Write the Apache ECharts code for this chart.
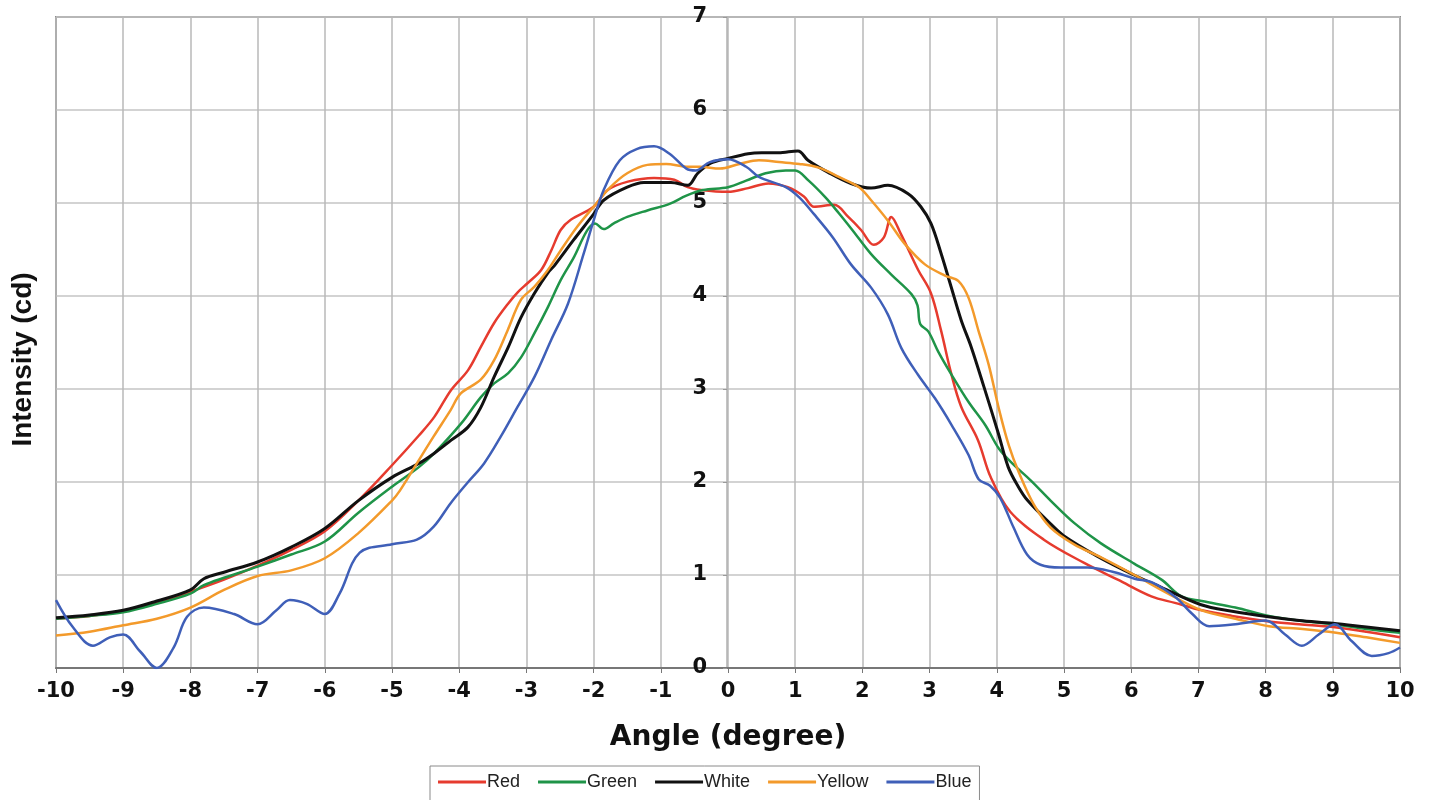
<!DOCTYPE html>
<html>
<head>
<meta charset="utf-8">
<title>Intensity vs Angle</title>
<script src="https://cdn.jsdelivr.net/npm/echarts@6.0.0/dist/echarts.min.js"></script>
<style>
  html, body { margin: 0; padding: 0; background: #fff; }
  #graph01 { width: 1442px; height: 800px; }
</style>
</head>
<body>
<div id="graph01"></div>
<script>
// values: angle (degree) and intensity (cd) per colour
var legendNames = ['Red', 'Green', 'White', 'Yellow', 'Blue'];

var redX = [-10,-9.5,-9,-8.5,-8,-7.5,-7,-6.5,-6,-5.5,-5,-4.6,-4.37,-4.12,-3.87,-3.68,-3.48,-3.27,-3.13,-2.98,-2.78,-2.63,-2.49,-2.34,-2.0,-1.79,-1.49,-1.1,-0.8,-0.6,-0.4,0,0.3,0.6,0.89,1.13,1.28,1.58,1.79,1.98,2.17,2.32,2.43,2.57,2.83,3.02,3.17,3.32,3.47,3.72,3.91,4.2,4.7,5.3,5.8,6.3,6.65,7.05,7.5,8.05,8.5,9,9.5,10];
var redY = [0.53,0.56,0.61,0.7,0.82,0.95,1.1,1.27,1.47,1.8,2.18,2.5,2.7,2.99,3.2,3.45,3.71,3.92,4.04,4.14,4.28,4.49,4.71,4.82,4.96,5.14,5.23,5.27,5.25,5.17,5.14,5.12,5.16,5.21,5.17,5.07,4.96,4.98,4.85,4.71,4.55,4.63,4.85,4.67,4.28,4.03,3.63,3.17,2.81,2.45,2.05,1.68,1.38,1.13,0.95,0.77,0.7,0.62,0.56,0.5,0.47,0.44,0.39,0.33];

var greenX = [-10,-9.5,-9,-8.5,-8,-7.8,-7.5,-7,-6.5,-6,-5.5,-5,-4.6,-4.37,-3.97,-3.68,-3.48,-3.27,-3.08,-2.88,-2.68,-2.49,-2.29,-2.1,-1.98,-1.85,-1.7,-1.5,-1.2,-0.87,-0.62,-0.37,0,0.27,0.56,0.86,1.0,1.2,1.45,1.65,1.85,2.13,2.43,2.73,2.82,2.86,2.98,3.13,3.33,3.58,3.83,4.03,4.23,4.5,4.8,5.15,5.55,6.05,6.45,6.75,7.05,7.55,8.05,8.5,9,9.5,10];
var greenY = [0.53,0.56,0.6,0.69,0.8,0.89,0.97,1.09,1.22,1.36,1.67,1.95,2.16,2.31,2.63,2.91,3.06,3.17,3.34,3.6,3.88,4.17,4.42,4.7,4.78,4.72,4.78,4.85,4.92,4.99,5.08,5.14,5.17,5.24,5.32,5.35,5.35,5.24,5.06,4.89,4.71,4.45,4.23,4.02,3.9,3.7,3.62,3.4,3.15,2.86,2.61,2.36,2.2,2.02,1.8,1.56,1.34,1.12,0.95,0.77,0.72,0.65,0.56,0.51,0.47,0.42,0.38];

var whiteX = [-10,-9.5,-9,-8.5,-8,-7.8,-7.5,-7,-6.5,-6,-5.5,-5,-4.6,-4.37,-4.12,-3.87,-3.68,-3.48,-3.27,-3.08,-2.88,-2.68,-2.58,-2.3,-2.0,-1.85,-1.5,-1.25,-0.85,-0.6,-0.45,-0.25,0,0.3,0.5,0.75,1.04,1.19,1.49,1.83,2.13,2.38,2.68,2.87,3.02,3.17,3.32,3.47,3.62,3.81,4.02,4.17,4.32,4.46,4.8,5.0,5.5,6.04,6.44,7.04,7.5,8.04,8.5,9,9.5,10];
var whiteY = [0.54,0.57,0.62,0.72,0.84,0.96,1.03,1.14,1.3,1.5,1.8,2.05,2.2,2.31,2.45,2.59,2.8,3.13,3.45,3.77,4.03,4.25,4.33,4.6,4.88,5.03,5.17,5.22,5.22,5.19,5.32,5.43,5.48,5.53,5.54,5.54,5.56,5.46,5.33,5.21,5.16,5.19,5.1,4.96,4.78,4.46,4.1,3.74,3.45,3.02,2.53,2.16,1.95,1.8,1.55,1.42,1.2,1.0,0.87,0.68,0.61,0.55,0.51,0.48,0.44,0.4];

var yellowX = [-10,-9.5,-9,-8.5,-8,-7.5,-7,-6.5,-6,-5.5,-5,-4.88,-4.63,-4.38,-4.13,-3.98,-3.68,-3.48,-3.28,-3.08,-2.88,-2.68,-2.49,-2.25,-2,-1.75,-1.5,-1.2,-0.92,-0.62,-0.42,-0.12,0.17,0.46,0.76,1.06,1.35,1.65,1.95,2.13,2.38,2.63,2.93,3.23,3.43,3.58,3.73,3.88,4.03,4.18,4.33,4.55,4.8,5.15,5.55,6.05,6.55,7.05,7.55,8.05,8.55,9.05,9.5,10];
var yellowY = [0.35,0.39,0.46,0.53,0.65,0.84,0.99,1.05,1.18,1.45,1.8,1.91,2.2,2.49,2.77,2.95,3.1,3.31,3.63,3.96,4.1,4.28,4.49,4.74,4.96,5.17,5.32,5.41,5.42,5.39,5.39,5.37,5.42,5.46,5.44,5.42,5.38,5.28,5.17,5.03,4.81,4.56,4.34,4.22,4.16,3.98,3.62,3.26,2.79,2.39,2.1,1.76,1.51,1.33,1.19,1.0,0.8,0.62,0.53,0.45,0.42,0.38,0.33,0.27];

var blueX = [-10,-9.75,-9.45,-9.2,-9,-8.75,-8.5,-8.25,-8.05,-7.8,-7.35,-7,-6.72,-6.52,-6.27,-6,-5.78,-5.48,-5,-4.63,-4.38,-4.13,-3.88,-3.63,-3.38,-3.13,-2.88,-2.63,-2.38,-2.15,-2,-1.85,-1.61,-1.36,-1.1,-0.87,-0.62,-0.48,-0.27,0,0.27,0.46,0.86,1.06,1.28,1.56,1.83,2.13,2.38,2.58,2.83,3.08,3.33,3.58,3.73,3.9,4.05,4.25,4.45,4.65,4.95,5.35,5.75,6.05,6.31,6.66,6.91,7.16,7.55,8.0,8.29,8.54,8.79,9.03,9.28,9.58,9.83,10];
var blueY = [0.73,0.44,0.24,0.33,0.36,0.18,0.0,0.22,0.55,0.65,0.58,0.47,0.62,0.73,0.69,0.58,0.8,1.24,1.33,1.38,1.52,1.77,1.99,2.2,2.49,2.81,3.13,3.53,3.92,4.45,4.81,5.14,5.46,5.58,5.61,5.53,5.37,5.35,5.44,5.47,5.39,5.28,5.17,5.06,4.88,4.63,4.34,4.09,3.8,3.44,3.15,2.9,2.61,2.29,2.03,1.96,1.83,1.51,1.22,1.11,1.08,1.08,1.03,0.96,0.92,0.76,0.58,0.45,0.47,0.51,0.36,0.24,0.36,0.47,0.29,0.13,0.16,0.22];

function pairs(xs, ys) {
    return xs.map(function (x, i) { return [x, ys[i]]; });
}

var lineSeries = function (name, color, xs, ys, width) {
    return {
        name: name,
        type: 'line',
        smooth: 0.35,
        showSymbol: false,
        symbol: 'none',
        lineStyle: { color: color, width: width || 2.5 },
        itemStyle: { color: color },
        data: pairs(xs, ys)
    };
};

var myChart = echarts.init(document.getElementById('graph01'));
var option = {
    animation: false,
    textStyle: { fontFamily: 'Liberation Sans, Arial, sans-serif' },
    legend: {
        data: legendNames,
        left: 430,
        top: 766,
        padding: [7, 8, 12, 8],
        borderColor: '#8a8a8a',
        borderWidth: 1,
        icon: 'rect',
        itemWidth: 48,
        itemHeight: 3,
        itemGap: 18,
        textStyle: { fontSize: 18, color: '#222', padding: [0, 0, 0, -4] }
    },
    grid: {
        left: 56,
        right: 42,
        top: 17,
        bottom: 132,
        containLabel: false,
        outerBoundsMode: 'none',
        show: true,
        borderColor: '#8f8f8f',
        borderWidth: 2
    },
    xAxis: {
        type: 'value',
        min: -10,
        max: 10,
        interval: 1,
        name: 'Angle (degree)',
        nameLocation: 'middle',
        nameGap: 56,
        nameTextStyle: { fontFamily: 'DejaVu Sans', fontWeight: 'bold', fontSize: 28, color: '#111' },
        axisLine: { lineStyle: { color: '#777', width: 2 } },
        axisTick: { show: true, length: 5, lineStyle: { color: '#777' } },
        axisLabel: { fontFamily: 'DejaVu Sans', fontWeight: 'bold', fontSize: 21, color: '#111', margin: 13 },
        splitLine: { lineStyle: { color: '#b8b8b8', width: 1.5 } }
    },
    yAxis: {
        type: 'value',
        min: 0,
        max: 7,
        interval: 1,
        // the value axis sits on angle 0, in the middle of the plot
        offset: -671,
        name: 'Intensity (cd)',
        nameLocation: 'middle',
        nameRotate: 90,
        nameGap: 690,
        nameTextStyle: { fontWeight: 'bold', fontSize: 28, color: '#111', padding: [0, 34, 0, 0] },
        axisLine: { onZero: false, lineStyle: { color: '#b0b0b0', width: 1.5 } },
        axisTick: { show: true, length: 4, lineStyle: { color: '#999' } },
        axisLabel: { fontFamily: 'DejaVu Sans', fontWeight: 'bold', fontSize: 21, color: '#111', margin: 20 },
        splitLine: { lineStyle: { color: '#c4c4c4', width: 1.5 } }
    },
    series: [
        lineSeries('Red', '#e63b2e', redX, redY),
        lineSeries('Green', '#1f9448', greenX, greenY),
        lineSeries('White', '#111111', whiteX, whiteY, 3),
        lineSeries('Yellow', '#f39a2b', yellowX, yellowY),
        lineSeries('Blue', '#3f5fb8', blueX, blueY)
    ]
};
myChart.setOption(option);
</script>
</body>
</html>
